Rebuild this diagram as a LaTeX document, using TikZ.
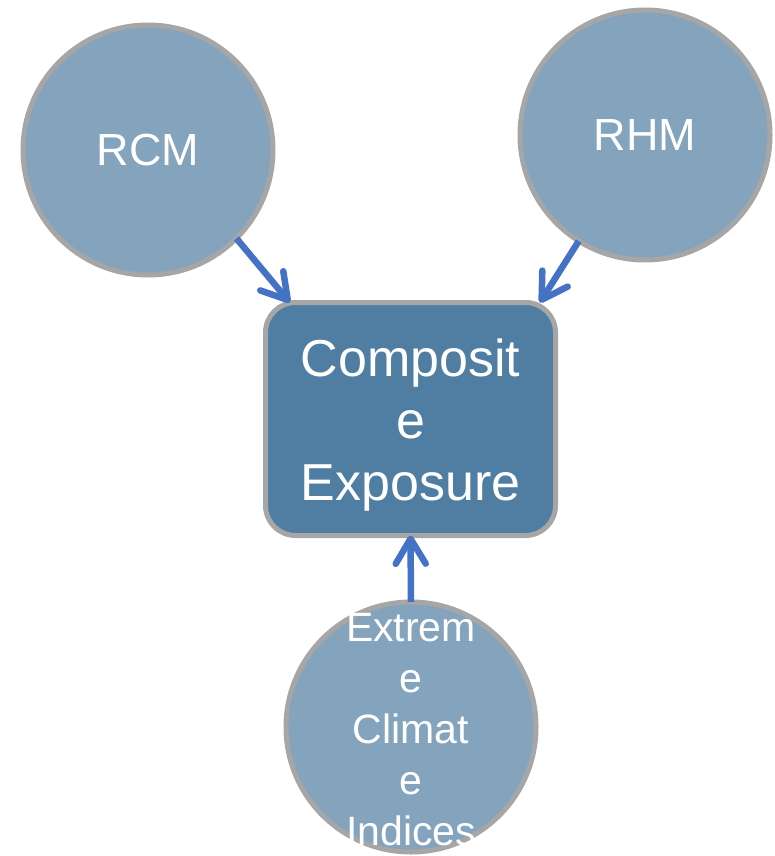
\documentclass[tikz,border=0pt]{standalone}
\usepackage{fontspec}
\setmainfont{Liberation Sans}
\usepackage{tikz}
\usetikzlibrary{arrows.meta}
\definecolor{bubblefill}{HTML}{84A3BD}
\definecolor{boxfill}{HTML}{507EA2}
\definecolor{rimgray}{HTML}{A6A6A6}
\definecolor{arrowblue}{HTML}{4472C4}
\tikzset{
  bubble/.style={circle, draw=rimgray, fill=bubblefill, line width=5pt,
    minimum size=250pt, inner sep=0pt, outer sep=0pt, text=white,
    font=\fontsize{45}{54}\selectfont},
  bubbletext/.style={text=white, align=center, inner sep=0pt,
    font=\fontsize{41}{51}\selectfont},
  expobox/.style={rectangle, rounded corners=30pt, draw=rimgray, fill=boxfill,
    line width=5pt, minimum width=290pt, minimum height=233pt, inner sep=0pt,
    outer sep=0pt},
  expotext/.style={text=white, align=center, inner sep=0pt,
    font=\fontsize{52}{62}\selectfont},
  link/.style={draw=arrowblue, line width=6.5pt,
    -{Straight Barb[length=25pt, width=30pt, round]}}
}

\begin{document}
\begin{tikzpicture}[x=1pt, y=-1pt]
  %%%%% START %%%%%
  \useasboundingbox (0,0) rectangle (774,856);

  \node[bubble] (rcm) at (148,150) {RCM};
  \node[bubble] (rhm) at (645,135) {RHM};

  \node[expobox] (comp) at (410.5,419) {};
  \node[expotext] (comptxt) at (410.5,425) {Composit\\e\\Exposure};

  \node[bubble] (eci) at (411,727) {};
  \node[bubbletext] (ecitxt) at (411,730) {Extrem\\e\\Climat\\e\\Indices};

  \draw[link] (rcm.-45) -- (comp.136);
  \draw[link] (rhm.-122) -- (comp.42);
  \draw[link] (eci.north) -- (comp.south);
  %%%%% END %%%%%
\end{tikzpicture}
\end{document}
